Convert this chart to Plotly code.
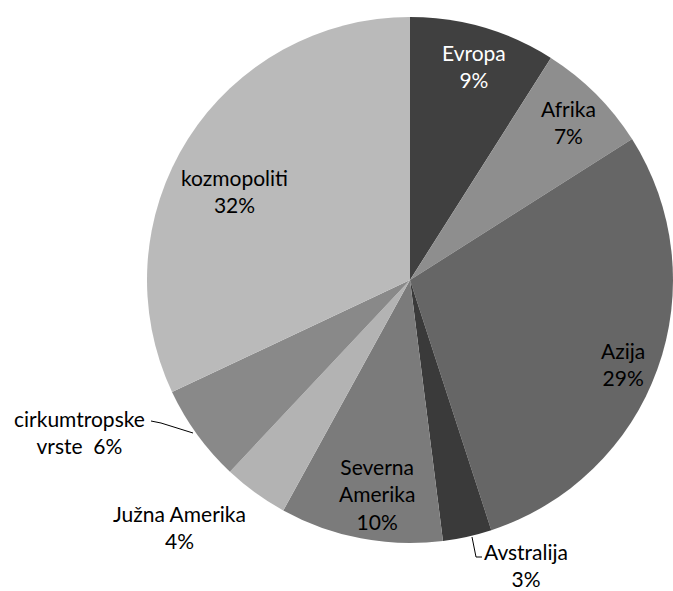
import plotly.graph_objects as go

W, H = 673, 591

regions = ["Evropa", "Afrika", "Azija", "Avstralija", "Severna Amerika",
           "Južna Amerika", "cirkumtropske vrste", "kozmopoliti"]
shares = [9, 7, 29, 3, 10, 4, 6, 32]
slice_colors = ["#404040", "#8e8e8e", "#666666", "#3a3a3a", "#7b7b7b",
                "#b3b3b3", "#898989", "#bababa"]

# how each label is written on the chart (line breaks as in the original)
label_text = ["Evropa<br>{}%", "Afrika<br>{}%", "Azija<br>{}%", "Avstralija<br>{}%",
              "Severna<br>Amerika<br>{}%", "Južna Amerika<br>{}%",
              "cirkumtropske<br>vrste  {}%", "kozmopoliti<br>{}%"]
label_color = ["white", "black", "black", "black", "black", "black", "black", "black"]
# label centres in pixels (x from left, y from top)
label_pos = [(474, 66), (568, 122), (623, 364), (526, 565),
             (377, 494), (179, 527), (79, 432), (234, 191)]

def px(x):
    return min(1.0, max(0.0, x / W))

def py(y):
    return min(1.0, max(0.0, 1 - y / H))

cx, cy, r = 410, 280, 263

fig = go.Figure()
fig.add_trace(go.Pie(labels=regions, values=shares,
                     marker=dict(colors=slice_colors, line=dict(width=0)),
                     sort=False, direction="clockwise", rotation=0,
                     textinfo="none", hoverinfo="label+percent",
                     showlegend=False,
                     domain=dict(x=[px(cx - r), px(cx + r)], y=[py(cy + r), py(cy - r)])))

for txt, val, col, (x, y) in zip(label_text, shares, label_color, label_pos):
    fig.add_annotation(x=px(x), y=py(y), xref="paper", yref="paper",
                       text=txt.format(val), showarrow=False,
                       font=dict(family="Lato", size=21, color=col),
                       align="center", xanchor="center", yanchor="middle")

# leader lines
fig.add_shape(type="path", xref="paper", yref="paper",
              path="M {} {} L {} {} L {} {}".format(px(151), py(421), px(161), py(423), px(193), py(433)),
              line=dict(color="black", width=1))
fig.add_shape(type="path", xref="paper", yref="paper",
              path="M {} {} L {} {} L {} {}".format(px(472), py(537), px(476), py(557), px(482), py(557)),
              line=dict(color="black", width=1))

fig.update_layout(width=W, height=H, margin=dict(l=0, r=0, t=0, b=0),
                  paper_bgcolor="white", plot_bgcolor="white")
fig.write_html("out.html", config={"displayModeBar": False},
               post_script="document.body.style.margin='0';")
